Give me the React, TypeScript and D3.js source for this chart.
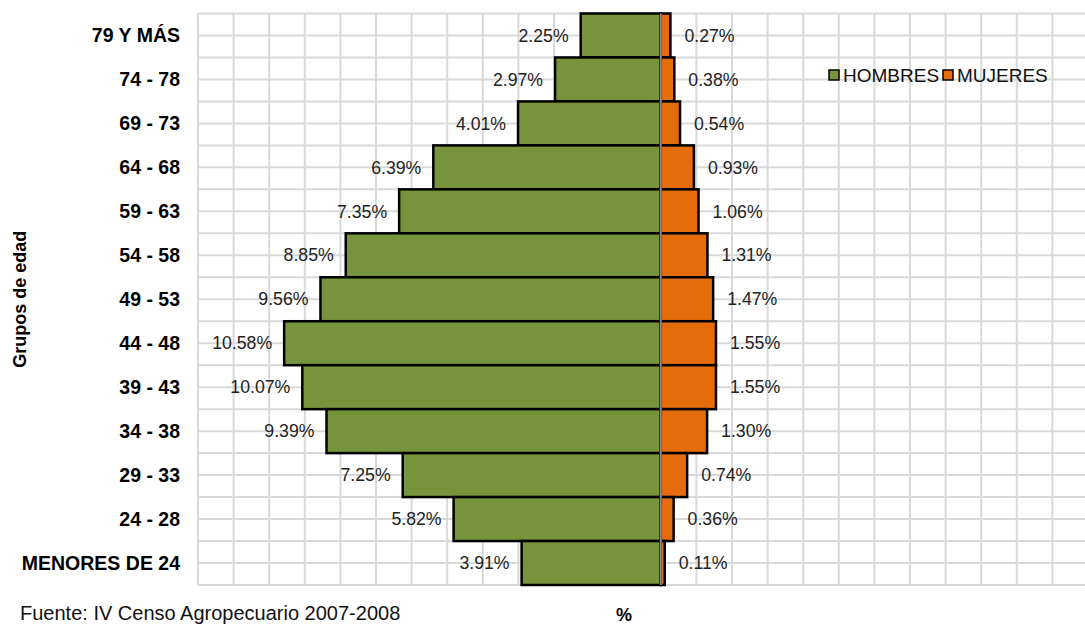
import React, { useEffect, useRef } from "react";
import * as d3 from "d3";

// Pirámide de edad de productores
const grupos = [
    "79 Y MÁS",
    "74 - 78",
    "69 - 73",
    "64 - 68",
    "59 - 63",
    "54 - 58",
    "49 - 53",
    "44 - 48",
    "39 - 43",
    "34 - 38",
    "29 - 33",
    "24 - 28",
    "MENORES DE 24",
];
const hombres = [2.25, 2.97, 4.01, 6.39, 7.35, 8.85, 9.56, 10.58, 10.07, 9.39, 7.25, 5.82, 3.91];
const mujeres = [0.27, 0.38, 0.54, 0.93, 1.06, 1.31, 1.47, 1.55, 1.55, 1.3, 0.74, 0.36, 0.11];
const xTicks = d3.range(-13, 13, 1);

const WIDTH = 1085;
const HEIGHT = 624;
const FONT = "'Liberation Sans', Arial, sans-serif";

const Piramide = () => {
    const svgRef = useRef<SVGSVGElement>(null);

    useEffect(() => {
        const svg = d3.select(svgRef.current);
        svg.selectAll("*").remove();

        const top = 13.5;
        const bottom = 585;
        const x = d3.scaleLinear().domain([-13, 12]).range([198, 198 + 25 * 35.6]);
        const y = d3.scaleBand().domain(grupos).range([top, bottom]).padding(0);
        const bw = y.bandwidth();

        const grid = svg.append("g").attr("stroke", "#d9d9d9").attr("stroke-width", 2);
        // vertical grid
        grid.selectAll("line.v")
            .data(xTicks)
            .enter()
            .append("line")
            .attr("x1", (d) => x(d))
            .attr("x2", (d) => x(d))
            .attr("y1", top)
            .attr("y2", bottom);
        // horizontal grid, every half band
        const hLines = d3.range(0, grupos.length * 2 + 1).map((i) => top + (i * bw) / 2);
        grid.selectAll("line.h")
            .data(hLines)
            .enter()
            .append("line")
            .attr("x1", x(-13))
            .attr("x2", WIDTH + 10)
            .attr("y1", (d) => d)
            .attr("y2", (d) => d);

        // bars
        svg.append("g")
            .selectAll("rect")
            .data(hombres)
            .enter()
            .append("rect")
            .attr("x", (d) => x(-d))
            .attr("y", (d, i) => y(grupos[i]))
            .attr("width", (d) => x(0) - x(-d))
            .attr("height", bw)
            .attr("fill", "#77933C")
            .attr("stroke", "#000")
            .attr("stroke-width", 2.5);

        svg.append("g")
            .selectAll("rect")
            .data(mujeres)
            .enter()
            .append("rect")
            .attr("x", x(0))
            .attr("y", (d, i) => y(grupos[i]))
            .attr("width", (d) => x(d) - x(0))
            .attr("height", bw)
            .attr("fill", "#E46C0A")
            .attr("stroke", "#000")
            .attr("stroke-width", 2.5);

        // center axis
        svg.append("line")
            .attr("x1", x(0))
            .attr("x2", x(0))
            .attr("y1", top)
            .attr("y2", bottom)
            .attr("stroke", "#888")
            .attr("stroke-width", 2);

        // value labels
        svg.append("g")
            .selectAll("text")
            .data(hombres)
            .enter()
            .append("text")
            .attr("x", (d) => x(-d) - 12)
            .attr("y", (d, i) => y(grupos[i]) + bw / 2)
            .attr("dy", "0.35em")
            .attr("text-anchor", "end")
            .style("font-family", FONT)
            .style("font-size", "17.7px")
            .style("fill", "#222")
            .text((d) => d.toFixed(2) + "%");

        svg.append("g")
            .selectAll("text")
            .data(mujeres)
            .enter()
            .append("text")
            .attr("x", (d) => x(d) + 14)
            .attr("y", (d, i) => y(grupos[i]) + bw / 2)
            .attr("dy", "0.35em")
            .attr("text-anchor", "start")
            .style("font-family", FONT)
            .style("font-size", "17.7px")
            .style("fill", "#222")
            .text((d) => d.toFixed(2) + "%");

        // category labels
        svg.append("g")
            .selectAll("text")
            .data(grupos)
            .enter()
            .append("text")
            .attr("x", 180)
            .attr("y", (d) => y(d) + bw / 2)
            .attr("dy", "0.35em")
            .attr("text-anchor", "end")
            .style("font-family", FONT)
            .style("font-size", "19.5px")
            .style("font-weight", "bold")
            .style("fill", "#000")
            .text((d) => d);

        // axis titles
        svg.append("text")
            .attr("transform", `translate(26,${(top + bottom) / 2}) rotate(-90)`)
            .attr("text-anchor", "middle")
            .style("font-family", FONT)
            .style("font-size", "18px")
            .style("font-weight", "bold")
            .text("Grupos de edad");

        svg.append("text")
            .attr("x", 624)
            .attr("y", 621)
            .attr("text-anchor", "middle")
            .style("font-family", FONT)
            .style("font-size", "18px")
            .style("font-weight", "bold")
            .text("%");

        svg.append("text")
            .attr("x", 20)
            .attr("y", 620)
            .style("font-family", FONT)
            .style("font-size", "20px")
            .style("fill", "#111")
            .text("Fuente: IV Censo Agropecuario 2007-2008");

        // legend
        const legend = svg.append("g").attr("transform", "translate(829,75)");
        const items = [
            { name: "HOMBRES", color: "#77933C", dx: 0 },
            { name: "MUJERES", color: "#E46C0A", dx: 114 },
        ];
        const li = legend
            .selectAll("g")
            .data(items)
            .enter()
            .append("g")
            .attr("transform", (d) => `translate(${d.dx},0)`);
        li.append("rect")
            .attr("x", 0)
            .attr("y", -5)
            .attr("width", 10)
            .attr("height", 10)
            .attr("fill", (d) => d.color)
            .attr("stroke", "#000")
            .attr("stroke-width", 1.5);
        li.append("text")
            .attr("x", 14)
            .attr("y", 0)
            .attr("dy", "0.35em")
            .style("font-family", FONT)
            .style("font-size", "19px")
            .style("fill", "#111")
            .text((d) => d.name);
    });

    return (
        <svg
            ref={svgRef}
            width={WIDTH}
            height={HEIGHT}
            style={{ position: "absolute", left: 0, top: 0, background: "#fff" }}
        />
    );
};

export default function App() {
    return <Piramide />;
}
